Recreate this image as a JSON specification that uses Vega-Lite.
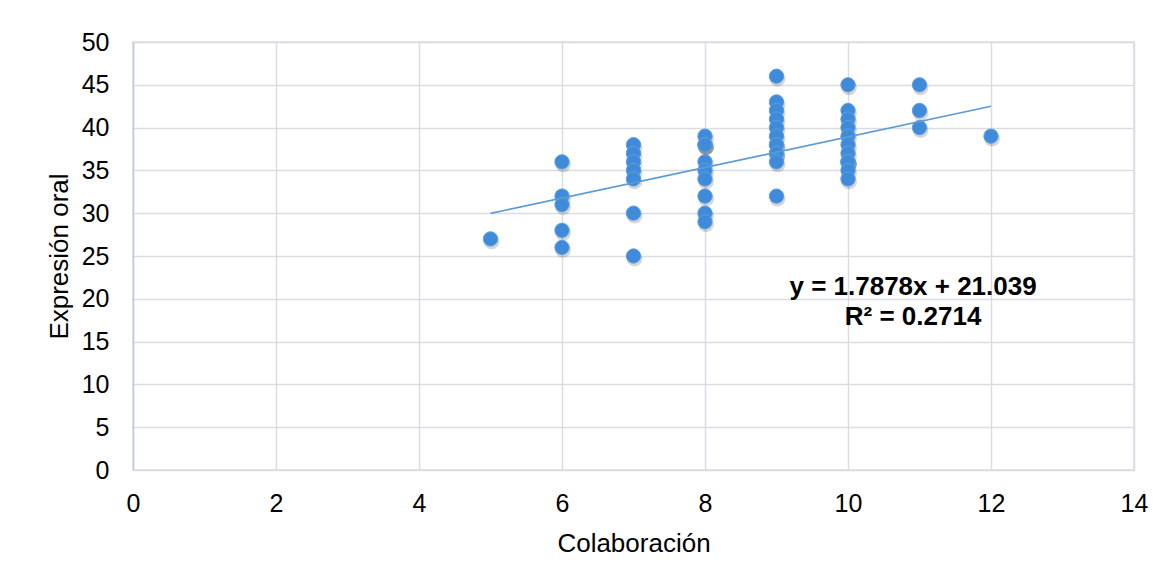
{
  "$schema": "https://vega.github.io/schema/vega-lite/v6.json",
  "width": 1001,
  "height": 428,
  "autosize": "none",
  "padding": {"left": 133, "top": 42, "right": 32, "bottom": 111},
  "background": "white",
  "config": {
    "font": "Liberation Sans",
    "view": {"stroke": "#d9dde3", "strokeWidth": 1.5},
    "axis": {
      "grid": true,
      "gridColor": "#d9dde3",
      "gridWidth": 1.5,
      "ticks": false,
      "labelFontSize": 25,
      "labelColor": "#000000",
      "labelFont": "Liberation Sans",
      "titleFont": "Liberation Sans",
      "titleFontSize": 26,
      "titleFontWeight": "normal",
      "titleColor": "#000000",
      "labelFlush": false,
      "labelOverlap": false
    }
  },
  "datasets": {
    "points": [
      {"colaboracion": 5, "expresion": 27},
      {"colaboracion": 6, "expresion": 36},
      {"colaboracion": 6, "expresion": 32},
      {"colaboracion": 6, "expresion": 31},
      {"colaboracion": 6, "expresion": 28},
      {"colaboracion": 6, "expresion": 26},
      {"colaboracion": 7, "expresion": 38},
      {"colaboracion": 7, "expresion": 37},
      {"colaboracion": 7, "expresion": 36},
      {"colaboracion": 7, "expresion": 35},
      {"colaboracion": 7, "expresion": 34},
      {"colaboracion": 7, "expresion": 30},
      {"colaboracion": 7, "expresion": 25},
      {"colaboracion": 8, "expresion": 39},
      {"colaboracion": 8, "expresion": 38},
      {"colaboracion": 8, "expresion": 38},
      {"colaboracion": 8, "expresion": 38},
      {"colaboracion": 8, "expresion": 36},
      {"colaboracion": 8, "expresion": 35},
      {"colaboracion": 8, "expresion": 34},
      {"colaboracion": 8, "expresion": 32},
      {"colaboracion": 8, "expresion": 30},
      {"colaboracion": 8, "expresion": 29},
      {"colaboracion": 9, "expresion": 46},
      {"colaboracion": 9, "expresion": 43},
      {"colaboracion": 9, "expresion": 42},
      {"colaboracion": 9, "expresion": 41},
      {"colaboracion": 9, "expresion": 40},
      {"colaboracion": 9, "expresion": 39},
      {"colaboracion": 9, "expresion": 38},
      {"colaboracion": 9, "expresion": 38},
      {"colaboracion": 9, "expresion": 37},
      {"colaboracion": 9, "expresion": 37},
      {"colaboracion": 9, "expresion": 36},
      {"colaboracion": 9, "expresion": 32},
      {"colaboracion": 10, "expresion": 45},
      {"colaboracion": 10, "expresion": 42},
      {"colaboracion": 10, "expresion": 41},
      {"colaboracion": 10, "expresion": 40},
      {"colaboracion": 10, "expresion": 39},
      {"colaboracion": 10, "expresion": 38},
      {"colaboracion": 10, "expresion": 37},
      {"colaboracion": 10, "expresion": 36},
      {"colaboracion": 10, "expresion": 36},
      {"colaboracion": 10, "expresion": 36},
      {"colaboracion": 10, "expresion": 35},
      {"colaboracion": 10, "expresion": 34},
      {"colaboracion": 11, "expresion": 45},
      {"colaboracion": 11, "expresion": 42},
      {"colaboracion": 11, "expresion": 40},
      {"colaboracion": 12, "expresion": 39}
    ],
    "trend": [
      {"colaboracion": 5, "expresion": 29.978},
      {"colaboracion": 12, "expresion": 42.485}
    ]
  },
  "layer": [
    {
      "data": {"name": "points"},
      "mark": {"type": "circle", "size": 250, "color": "#000000", "opacity": 0.16, "xOffset": 1, "yOffset": 2.5},
      "encoding": {
        "x": {
          "field": "colaboracion", "type": "quantitative",
          "scale": {"domain": [0, 14], "nice": false, "zero": false},
          "axis": {
            "title": "Colaboración",
            "format": "d",
            "values": [0, 2, 4, 6, 8, 10, 12, 14],
            "domain": false,
            "labelPadding": 21,
            "titleY": 81,
            "titleBaseline": "alphabetic"
          }
        },
        "y": {
          "field": "expresion", "type": "quantitative",
          "scale": {"domain": [0, 50], "nice": false},
          "axis": {
            "title": "Expresión oral",
            "format": "d",
            "values": [0, 5, 10, 15, 20, 25, 30, 35, 40, 45, 50],
            "domain": true,
            "domainColor": "#c3cad8",
            "domainWidth": 1.5,
            "labelPadding": 24,
            "titleAngle": -90,
            "titleX": -66,
            "titleY": 214,
            "titleAlign": "center",
            "titleBaseline": "alphabetic"
          }
        }
      }
    },
    {
      "data": {"name": "points"},
      "mark": {"type": "circle", "size": 205, "color": "#3F8BD9", "opacity": 1, "stroke": "#5A9FE2", "strokeWidth": 1},
      "encoding": {
        "x": {"field": "colaboracion", "type": "quantitative"},
        "y": {"field": "expresion", "type": "quantitative"}
      }
    },
    {
      "data": {"name": "trend"},
      "mark": {"type": "line", "color": "#5B9BD5", "strokeWidth": 1.6},
      "encoding": {
        "x": {"field": "colaboracion", "type": "quantitative"},
        "y": {"field": "expresion", "type": "quantitative"}
      }
    },
    {
      "data": {"values": [{}]},
      "mark": {
        "type": "text",
        "text": ["y = 1.7878x + 21.039", "R² = 0.2714"],
        "font": "Liberation Sans",
        "fontSize": 26,
        "fontWeight": "bold",
        "color": "#000000",
        "align": "center",
        "baseline": "alphabetic",
        "lineHeight": 30
      },
      "encoding": {
        "x": {"datum": 10.91, "type": "quantitative"},
        "y": {"datum": 20.44, "type": "quantitative"}
      }
    }
  ]
}
